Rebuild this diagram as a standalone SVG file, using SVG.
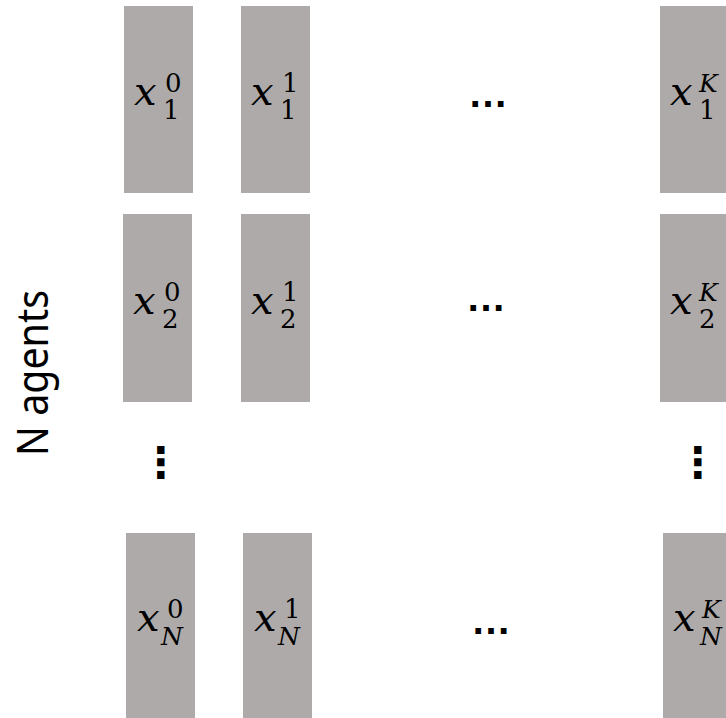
<svg xmlns="http://www.w3.org/2000/svg" width="726" height="718" viewBox="0 0 726 718">
<style>
.box{fill:#AEAAAA}
.v{font-family:"DejaVu Serif",serif;font-style:italic;font-size:40px;fill:#000}
.d{font-family:"DejaVu Serif",serif;font-size:26px;fill:#000}
.i{font-family:"DejaVu Serif",serif;font-style:italic;font-size:25px;fill:#000}
.ell{font-family:"Liberation Sans",sans-serif;font-size:40px;font-weight:bold;fill:#000;text-anchor:middle}
.vd{font-family:"DejaVu Sans",sans-serif;font-size:42px;font-weight:bold;fill:#000;text-anchor:middle}
.lab{font-family:"Noto Sans",sans-serif;font-size:43px;fill:#000;text-anchor:middle}
</style>
<rect width="726" height="718" fill="#fff"/>
<text class="lab" transform="translate(48,373) rotate(-90)" textLength="166" lengthAdjust="spacingAndGlyphs">N agents</text>

<g id="x1_0"><rect class="box" x="124" y="6" width="69" height="187"/>
<text class="v" x="134" y="105">x</text><text class="d" x="165" y="92">0</text><text class="d" x="163" y="119">1</text></g>
<g id="x1_1"><rect class="box" x="241" y="6" width="69" height="187"/>
<text class="v" x="251" y="105">x</text><text class="d" x="282" y="92">1</text><text class="d" x="280" y="119">1</text></g>
<g id="x1_K"><rect class="box" x="660" y="6" width="66" height="187"/>
<text class="v" x="670" y="105">x</text><text class="i" x="699" y="92">K</text><text class="d" x="699" y="119">1</text></g>

<g id="x2_0"><rect class="box" x="123" y="214" width="69" height="188"/>
<text class="v" x="133" y="314">x</text><text class="d" x="164" y="301">0</text><text class="d" x="162" y="328">2</text></g>
<g id="x2_1"><rect class="box" x="241" y="214" width="69" height="188"/>
<text class="v" x="251" y="314">x</text><text class="d" x="282" y="301">1</text><text class="d" x="280" y="328">2</text></g>
<g id="x2_K"><rect class="box" x="660" y="214" width="66" height="188"/>
<text class="v" x="670" y="314">x</text><text class="i" x="699" y="301">K</text><text class="d" x="699" y="328">2</text></g>

<g id="xN_0"><rect class="box" x="126" y="533" width="69" height="185"/>
<text class="v" x="137" y="631">x</text><text class="d" x="167" y="618">0</text><text class="i" x="161" y="645">N</text></g>
<g id="xN_1"><rect class="box" x="243" y="533" width="69" height="185"/>
<text class="v" x="254" y="631">x</text><text class="d" x="284" y="618">1</text><text class="i" x="278" y="645">N</text></g>
<g id="xN_K"><rect class="box" x="663" y="533" width="63" height="185"/>
<text class="v" x="673" y="631">x</text><text class="i" x="702" y="618">K</text><text class="i" x="700" y="645">N</text></g>

<g id="ellipses">
<text class="ell" x="488" y="107">…</text>
<text class="ell" x="486" y="311">…</text>
<text class="ell" x="491" y="634">…</text>
<text class="vd" x="161" y="477">⋮</text>
<text class="vd" x="698" y="477">⋮</text>
</g>
</svg>
